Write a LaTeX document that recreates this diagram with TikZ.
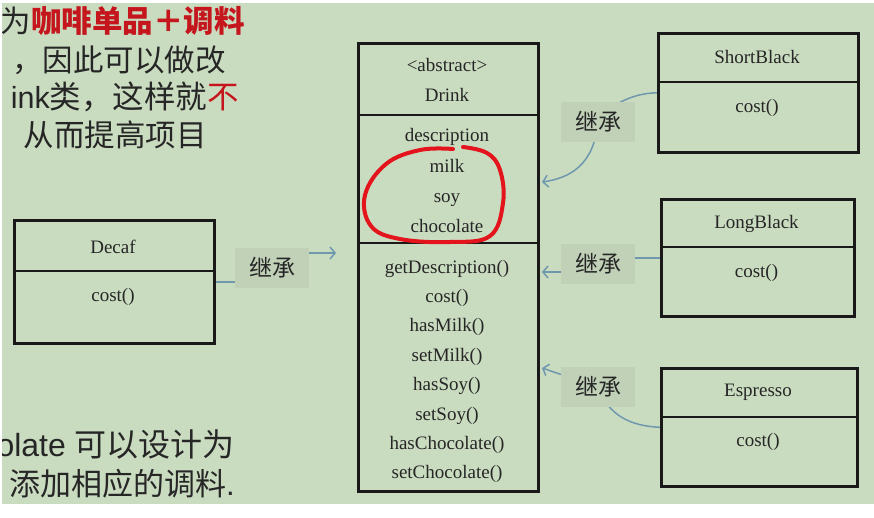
\documentclass[tikz,border=0pt]{standalone}
\usepackage{fontspec}
\setmainfont{Liberation Serif}
\newfontfamily\cjk{Noto Sans CJK SC}
\newfontfamily\lat{Liberation Sans}
\usetikzlibrary{arrows.meta,calc}
\definecolor{bg}{HTML}{CADCC0}
\definecolor{lblbg}{HTML}{C1D1B8}
\definecolor{connc}{HTML}{6F98AE}
\definecolor{redtxt}{HTML}{C4161C}
\definecolor{loopred}{HTML}{E3141B}
\definecolor{ink}{HTML}{262626}
\tikzset{
  classbox/.style={draw=black!90, line width=2.6pt, rectangle, inner sep=0pt, anchor=north west},
  divider/.style={draw=black!90, line width=2.6pt},
  umltxt/.style={font=\fontsize{19}{22}\selectfont, text=ink, anchor=base, inner sep=0pt},
  jicheng/.style={fill=lblbg, minimum width=74pt, minimum height=40pt, inner sep=0pt, font=\cjk\fontsize{23}{26}\selectfont, text=ink},
  conn/.style={draw=connc, line width=1.5pt},
  tip/.style={-{Straight Barb[length=5pt,width=12pt,line width=1.5pt]}},
  cntext/.style={anchor=east, inner sep=0pt, text=ink, font=\cjk\fontsize{30.5}{34}\selectfont},
  cntextb/.style={anchor=east, inner sep=0pt, text=ink, font=\cjk\fontsize{32}{36}\selectfont},
}
\begin{document}
\begin{tikzpicture}[x=1pt,y=-1pt]
\useasboundingbox (0,0) rectangle (874,517);
\fill[white] (0,0) rectangle (874,517);
\fill[bg] (2,3) rectangle (874,504);

% left text (the slide is cut at the left edge)
\begin{scope}
\clip (2,3) rectangle (874,504);
\node[cntext] (t1) at (245,21) {为{\color{redtxt}\bfseries 咖啡单品＋调料}};
\node[cntextb] (t5) at (235,444) {{\lat colate }可以设计为};
\end{scope}
\node[cntext] (t2) at (226,60) {，因此可以做改};
\node[cntext, font=\cjk\fontsize{31.5}{34}\selectfont] (t3) at (239,97) {{\fontsize{30.5}{34}\selectfont\lat ink}类，这样就{\color{redtxt}不}};
\node[cntext] (t4) at (207,135) {从而提高项目};
\node[cntextb, font=\cjk\fontsize{31}{36}\selectfont] (t6) at (235,484) {添加相应的调料{\lat .}};

% class boxes
\node[classbox, minimum width=180pt, minimum height=448pt] (drink) at (357,42) {};
\draw[divider] (357,115) -- (537,115);
\draw[divider] (357,243) -- (537,243);

\node[classbox, minimum width=200pt, minimum height=119pt] (sb) at (657,32) {};
\draw[divider] (657,82) -- (857,82);
\node[classbox, minimum width=193pt, minimum height=117pt] (lb) at (660,198) {};
\draw[divider] (660,247) -- (853,247);
\node[classbox, minimum width=196pt, minimum height=118pt] (es) at (660,367) {};
\draw[divider] (660,417) -- (856,417);
\node[classbox, minimum width=200pt, minimum height=123pt] (dc) at (13,219) {};
\draw[divider] (13,271) -- (213,271);

% drink texts
\node[umltxt] (abs) at (447,71) {<abstract>};
\node[umltxt] (dname) at (447,101) {Drink};
\node[umltxt] (a1) at (447,141) {description};
\node[umltxt] (a2) at (447,172) {milk};
\node[umltxt] (a3) at (447,202) {soy};
\node[umltxt] (a4) at (447,232) {chocolate};
\node[umltxt] (m1) at (447,273) {getDescription()};
\node[umltxt] (m2) at (447,302.4) {cost()};
\node[umltxt] (m3) at (447,331.8) {hasMilk()};
\node[umltxt] (m4) at (447,361.2) {setMilk()};
\node[umltxt] (m5) at (447,390.6) {hasSoy()};
\node[umltxt] (m6) at (447,420) {setSoy()};
\node[umltxt] (m7) at (447,449.4) {hasChocolate()};
\node[umltxt] (m8) at (447,478.8) {setChocolate()};

% other class texts
\node[umltxt] (sbn) at (757,63) {ShortBlack};
\node[umltxt] (sbc) at (757,112) {cost()};
\node[umltxt] (lbn) at (756.5,228) {LongBlack};
\node[umltxt] (lbc) at (756.5,277) {cost()};
\node[umltxt] (esn) at (758,396) {Espresso};
\node[umltxt] (esc) at (758,446) {cost()};
\node[umltxt] (dcn) at (113,253) {Decaf};
\node[umltxt] (dcc) at (113,301) {cost()};

% red hand-drawn loop
\draw[loopred, line width=4pt, line cap=round, line join=round]
  plot[smooth, tension=0.65] coordinates {(453,149) (420,150) (386,164) (365,195) (371,226) (400,239) (450,242) (490,236) (503,203) (500,170) (487,153) (463,147)};

% connectors
\coordinate (e1) at (542,182);
\coordinate (e2) at (542,272);
\coordinate (e3) at (542,368);
\coordinate (e4) at (336,253);

\coordinate (l1c) at (598,122);
\coordinate (l2c) at (598,264);
\coordinate (l3c) at (598,387);
\coordinate (l4c) at (272,268);

\draw[conn, tip] (sb.west) .. controls (630,93) and (606,108) .. (l1c) .. controls (594,165) and (570,178) .. (e1);
\draw[conn, tip] (lb.west) -- (l2c |- lb.west) -- (l2c |- e2) -- (e2);
\draw[conn, tip] (es.west) .. controls (630,426) and (608,415) .. (l3c) -- (e3);
\draw[conn, tip] (dc.east) -- (l4c |- dc.east) -- (l4c |- e4) -- (e4);

% labels
\node[jicheng] (l1) at (l1c) {继承};
\node[jicheng] (l2) at (l2c) {继承};
\node[jicheng] (l3) at (l3c) {继承};
\node[jicheng] (l4) at (l4c) {继承};
\end{tikzpicture}
\end{document}
